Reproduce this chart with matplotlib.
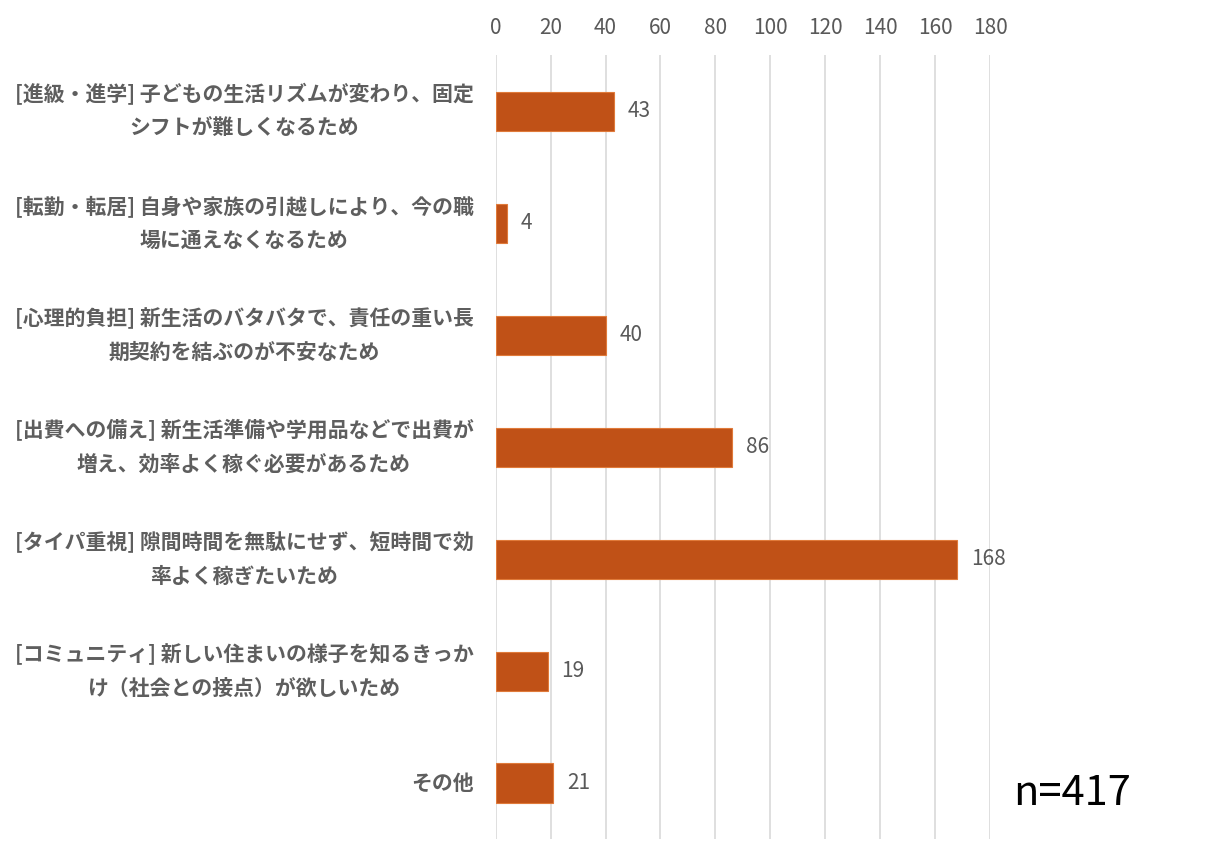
import numpy as np
import matplotlib
matplotlib.use('Agg')
import matplotlib.pyplot as plt

plt.rcParams['font.family'] = ['Noto Sans CJK JP', 'DejaVu Sans']

# data
CATEGORIES = [
    '[進級・進学] 子どもの生活リズムが変わり、固定\nシフトが難しくなるため',
    '[転勤・転居] 自身や家族の引越しにより、今の職\n場に通えなくなるため',
    '[心理的負担] 新生活のバタバタで、責任の重い長\n期契約を結ぶのが不安なため',
    '[出費への備え] 新生活準備や学用品などで出費が\n増え、効率よく稼ぐ必要があるため',
    '[タイパ重視] 隙間時間を無駄にせず、短時間で効\n率よく稼ぎたいため',
    '[コミュニティ] 新しい住まいの様子を知るきっか\nけ（社会との接点）が欲しいため',
    'その他',
]
COUNTS = [43, 4, 40, 86, 168, 19, 21]
X_TICKS = [0, 20, 40, 60, 80, 100, 120, 140, 160, 180]
N_TOTAL = 417

BAR_COLOR = '#C05117'
GRID_COLOR = '#D9D9D9'
TEXT_COLOR = '#595959'

fig = plt.figure(figsize=(12.06, 8.65), dpi=100)
ax = fig.add_axes([0.411, 0.030, 0.410, 0.906])

y = np.arange(len(CATEGORIES))
bars = ax.barh(y, COUNTS, height=0.35, color=BAR_COLOR, edgecolor='#E07A3A', linewidth=0.8, zorder=3)

ax.set_xlim(0, 180)
ax.set_ylim(len(CATEGORIES) - 0.5, -0.5)
ax.set_xticks(X_TICKS)
ax.xaxis.tick_top()
ax.tick_params(axis='x', length=0, pad=12, labelsize=15, labelcolor=TEXT_COLOR)
ax.set_yticks(y)
ax.set_yticklabels(CATEGORIES, fontsize=15, fontweight='bold', color='#5E5E5E',
                   multialignment='center', linespacing=1.75)
for lbl in ax.get_yticklabels():
    lbl.set_va('center')
ax.tick_params(axis='y', length=0, pad=16)
ax.grid(axis='x', color=GRID_COLOR, linewidth=1.2, zorder=0)
for s in ax.spines.values():
    s.set_visible(False)

for bar, v in zip(bars, COUNTS):
    ax.text(bar.get_width() + 5, bar.get_y() + bar.get_height() / 2, str(v),
            ha='left', va='center', fontsize=15, color=TEXT_COLOR)

fig.text(0.840, 0.083, f'n={N_TOTAL}', fontsize=30, color='black', ha='left', va='center')

fig.savefig('out.png', dpi=100, facecolor='white')
